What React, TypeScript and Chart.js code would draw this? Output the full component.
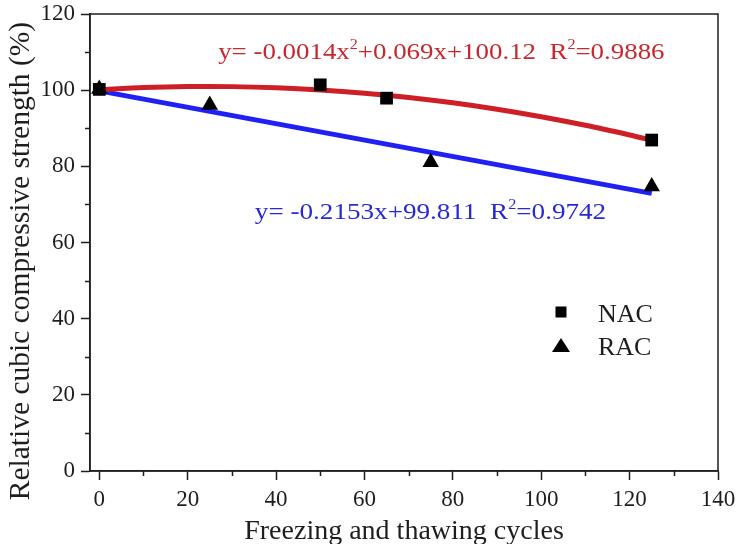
import React, { useEffect, useRef } from 'react';
import { Chart, registerables } from 'chart.js';

Chart.register(...registerables);

// ---- data ----
const nacCycles = [0, 50, 65, 125];
const nacStrength = [100.2, 101.4, 97.9, 86.9];
const racCycles = [0, 25, 75, 125];
const racStrength = [100.3, 96.1, 81.1, 74.7];

const nacFitCycles = [0, 10, 20, 30, 40, 50, 60, 70, 80, 90, 100, 110, 120, 125];
const nacFitStrength = [100.12, 100.67, 100.94, 100.93, 100.64, 100.07, 99.22, 98.09, 96.68, 94.99, 93.02, 90.77, 88.24, 86.87];
const racFitCycles = [0, 125];
const racFitStrength = [99.81, 72.9];

const xTicks = [0, 20, 40, 60, 80, 100, 120, 140];
const yTicks = [0, 20, 40, 60, 80, 100, 120];
const xMinorTicks = [10, 30, 50, 70, 90, 110, 130];
const yMinorTicks = [10, 30, 50, 70, 90, 110];

const seriesNames = ['NAC', 'RAC'];
const xTitle = 'Freezing and thawing cycles';
const yTitle = 'Relative cubic compressive strength (%)';
const nacEquation: [string, boolean][] = [['y= -0.0014x', false], ['2', true], ['+0.069x+100.12  R', false], ['2', true], ['=0.9886', false]];
const racEquation: [string, boolean][] = [['y= -0.2153x+99.811  R', false], ['2', true], ['=0.9742', false]];

const FONT = '"Liberation Serif", "Times New Roman", serif';
const INK = '#1e1e1e';
const RED = '#cf1f26';
const BLUE = '#2020f5';

function drawRich(ctx: CanvasRenderingContext2D, x: number, y: number, segs: [string, boolean][], size: number, color: string, sx: number) {
  ctx.save();
  ctx.translate(x, y);
  ctx.scale(sx, 1);
  ctx.fillStyle = color;
  ctx.textBaseline = 'alphabetic';
  ctx.textAlign = 'left';
  let cx = 0;
  for (const [t, sup] of segs) {
    const s = sup ? size * 0.6 : size;
    ctx.font = `${s}px ${FONT}`;
    ctx.fillText(t, cx, sup ? -size * 0.42 : 0);
    cx += ctx.measureText(t).width;
  }
  ctx.restore();
}

const decorPlugin = {
  id: 'decor',
  afterDraw(chart: any) {
    const { ctx, chartArea: ca, scales } = chart;
    const xs = scales.x;
    const ys = scales.y;
    ctx.save();
    // frame
    ctx.strokeStyle = INK;
    ctx.lineWidth = 1.5;
    ctx.strokeRect(ca.left, ca.top, ca.right - ca.left, ca.bottom - ca.top);
    // minor ticks
    ctx.beginPath();
    for (const v of xMinorTicks) {
      const px = Math.round(xs.getPixelForValue(v)) + 0.5;
      ctx.moveTo(px, ca.bottom);
      ctx.lineTo(px, ca.bottom + 5);
    }
    for (const v of yMinorTicks) {
      const py = Math.round(ys.getPixelForValue(v)) + 0.5;
      ctx.moveTo(ca.left, py);
      ctx.lineTo(ca.left - 5, py);
    }
    ctx.stroke();

    // equations
    drawRich(ctx, xs.getPixelForValue(26.9), ys.getPixelForValue(108.1), nacEquation, 24, '#c7282e', 1.12);
    drawRich(ctx, xs.getPixelForValue(35.2), ys.getPixelForValue(66.1), racEquation, 24, '#2828d8', 1.13);

    // legend
    const lx = 561;
    ctx.fillStyle = '#000';
    ctx.fillRect(lx - 5.5, 312 - 5.5, 11, 11);
    ctx.beginPath();
    ctx.moveTo(lx, 338);
    ctx.lineTo(lx + 9, 352);
    ctx.lineTo(lx - 9, 352);
    ctx.closePath();
    ctx.fill();
    ctx.fillStyle = INK;
    ctx.font = `26px ${FONT}`;
    ctx.textAlign = 'left';
    ctx.textBaseline = 'alphabetic';
    ctx.fillText(seriesNames[0], 598, 322);
    ctx.fillText(seriesNames[1], 598, 355);

    // axis titles
    ctx.font = `28px ${FONT}`;
    ctx.textAlign = 'center';
    ctx.fillText(xTitle, 404, 539);
    ctx.save();
    ctx.translate(29, 261);
    ctx.rotate(-Math.PI / 2);
    ctx.font = `29.5px ${FONT}`;
    ctx.fillText(yTitle, 0, 0);
    ctx.restore();
    ctx.restore();
  },
};

export default function App() {
  const ref = useRef<HTMLCanvasElement | null>(null);
  useEffect(() => {
    document.body.style.margin = '0';
    const canvas = ref.current;
    if (!canvas) return;
    const tickFont = { family: FONT, size: 23 };
    const chart = new Chart(canvas, {
      type: 'scatter',
      data: {
        datasets: [
          {
            label: seriesNames[0],
            data: nacCycles.map((c, i) => ({ x: c, y: nacStrength[i] })),
            pointStyle: 'rect',
            pointRadius: 9,
            backgroundColor: '#000',
            borderColor: '#000',
            borderWidth: 0,
            order: 0,
          },
          {
            label: seriesNames[1],
            data: racCycles.map((c, i) => ({ x: c, y: racStrength[i] })),
            pointStyle: 'triangle',
            pointRadius: 9.5,
            backgroundColor: '#000',
            borderColor: '#000',
            borderWidth: 0,
            order: 0,
          },
          {
            type: 'line',
            label: 'NAC fit',
            data: nacFitCycles.map((c, i) => ({ x: c, y: nacFitStrength[i] })),
            borderColor: RED,
            borderWidth: 5,
            pointRadius: 0,
            tension: 0.3,
            fill: false,
            order: 1,
          },
          {
            type: 'line',
            label: 'RAC fit',
            data: racFitCycles.map((c, i) => ({ x: c, y: racFitStrength[i] })),
            borderColor: BLUE,
            borderWidth: 5,
            pointRadius: 0,
            fill: false,
            order: 1,
          },
        ] as any,
      },
      options: {
        responsive: false,
        animation: false,
        layout: { padding: { top: 14, right: 18, left: 0, bottom: 0 } },
        plugins: { legend: { display: false }, tooltip: { enabled: false } },
        scales: {
          x: {
            type: 'linear',
            min: -2.1,
            max: 140,
            afterBuildTicks: (s: any) => { s.ticks = xTicks.map((v) => ({ value: v })); },
            afterFit: (s: any) => { s.height = 73; s.paddingLeft = 0; s.paddingRight = 0; },
            grid: { drawOnChartArea: false, drawTicks: true, tickLength: 9, tickWidth: 1.5, tickColor: INK },
            border: { color: INK, width: 1.5 },
            ticks: { font: tickFont, color: INK, padding: 6, maxRotation: 0, autoSkip: false },
          },
          y: {
            type: 'linear',
            min: 0,
            max: 120,
            afterBuildTicks: (s: any) => { s.ticks = yTicks.map((v) => ({ value: v })); },
            afterFit: (s: any) => { s.width = 90; s.paddingTop = 0; s.paddingBottom = 0; },
            grid: { drawOnChartArea: false, drawTicks: true, tickLength: 9, tickWidth: 1.5, tickColor: INK },
            border: { color: INK, width: 1.5 },
            ticks: { font: tickFont, color: INK, padding: 6, autoSkip: false },
          },
        },
      },
      plugins: [decorPlugin],
    });
    return () => chart.destroy();
  }, []);
  return (
    <div style={{ width: 736, height: 544 }}>
      <canvas ref={ref} width={736} height={544} style={{ display: 'block' }} />
    </div>
  );
}
